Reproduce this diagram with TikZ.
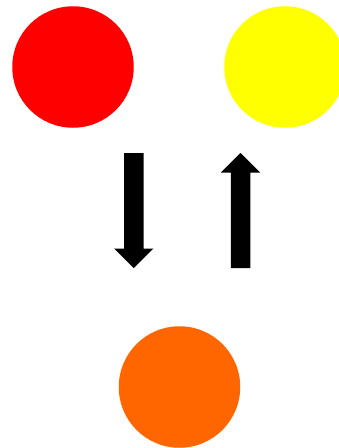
\documentclass[tikz,border=0pt]{standalone}
\usetikzlibrary{calc, positioning}

\definecolor{ballred}{HTML}{FF0000}
\definecolor{ballyellow}{HTML}{FFFF00}
\definecolor{ballorange}{HTML}{FF6600}

\begin{document}
\begin{tikzpicture}[x=1pt, y=-1pt,
  ball/.style={circle, minimum size=121.5pt, inner sep=0pt, draw=none},
  blockarrow/.style={fill=black, draw=none}]
\def\shaftw{9.75}
\def\headw{19.75}
\def\headlen{19.5}

\useasboundingbox (0,0) rectangle (339,448);
\clip (0,0) rectangle (339,448);

\node[ball, fill=ballred] (red) at (73,67) {};
\node[ball, fill=ballyellow] (yellow) at (285,67) {};
\node[ball, fill=ballorange] (orange) at (179.5,387) {};

% down arrow
\coordinate (dtop) at (133.75,153);
\coordinate (dtip) at (133.75,268);
\fill[blockarrow] ($(dtop)+(-\shaftw,0)$) -- ($(dtop)+(\shaftw,0)$)
  -- ($(dtip)+(\shaftw,-\headlen)$) -- ($(dtip)+(\headw,-\headlen)$)
  -- (dtip) -- ($(dtip)+(-\headw,-\headlen)$)
  -- ($(dtip)+(-\shaftw,-\headlen)$) -- cycle;

% up arrow
\coordinate (ubot) at (240.5,268);
\coordinate (utip) at (240.5,153);
\fill[blockarrow] ($(ubot)+(-\shaftw,0)$) -- ($(ubot)+(\shaftw,0)$)
  -- ($(utip)+(\shaftw,\headlen)$) -- ($(utip)+(\headw,\headlen)$)
  -- (utip) -- ($(utip)+(-\headw,\headlen)$)
  -- ($(utip)+(-\shaftw,\headlen)$) -- cycle;
\end{tikzpicture}
\end{document}
